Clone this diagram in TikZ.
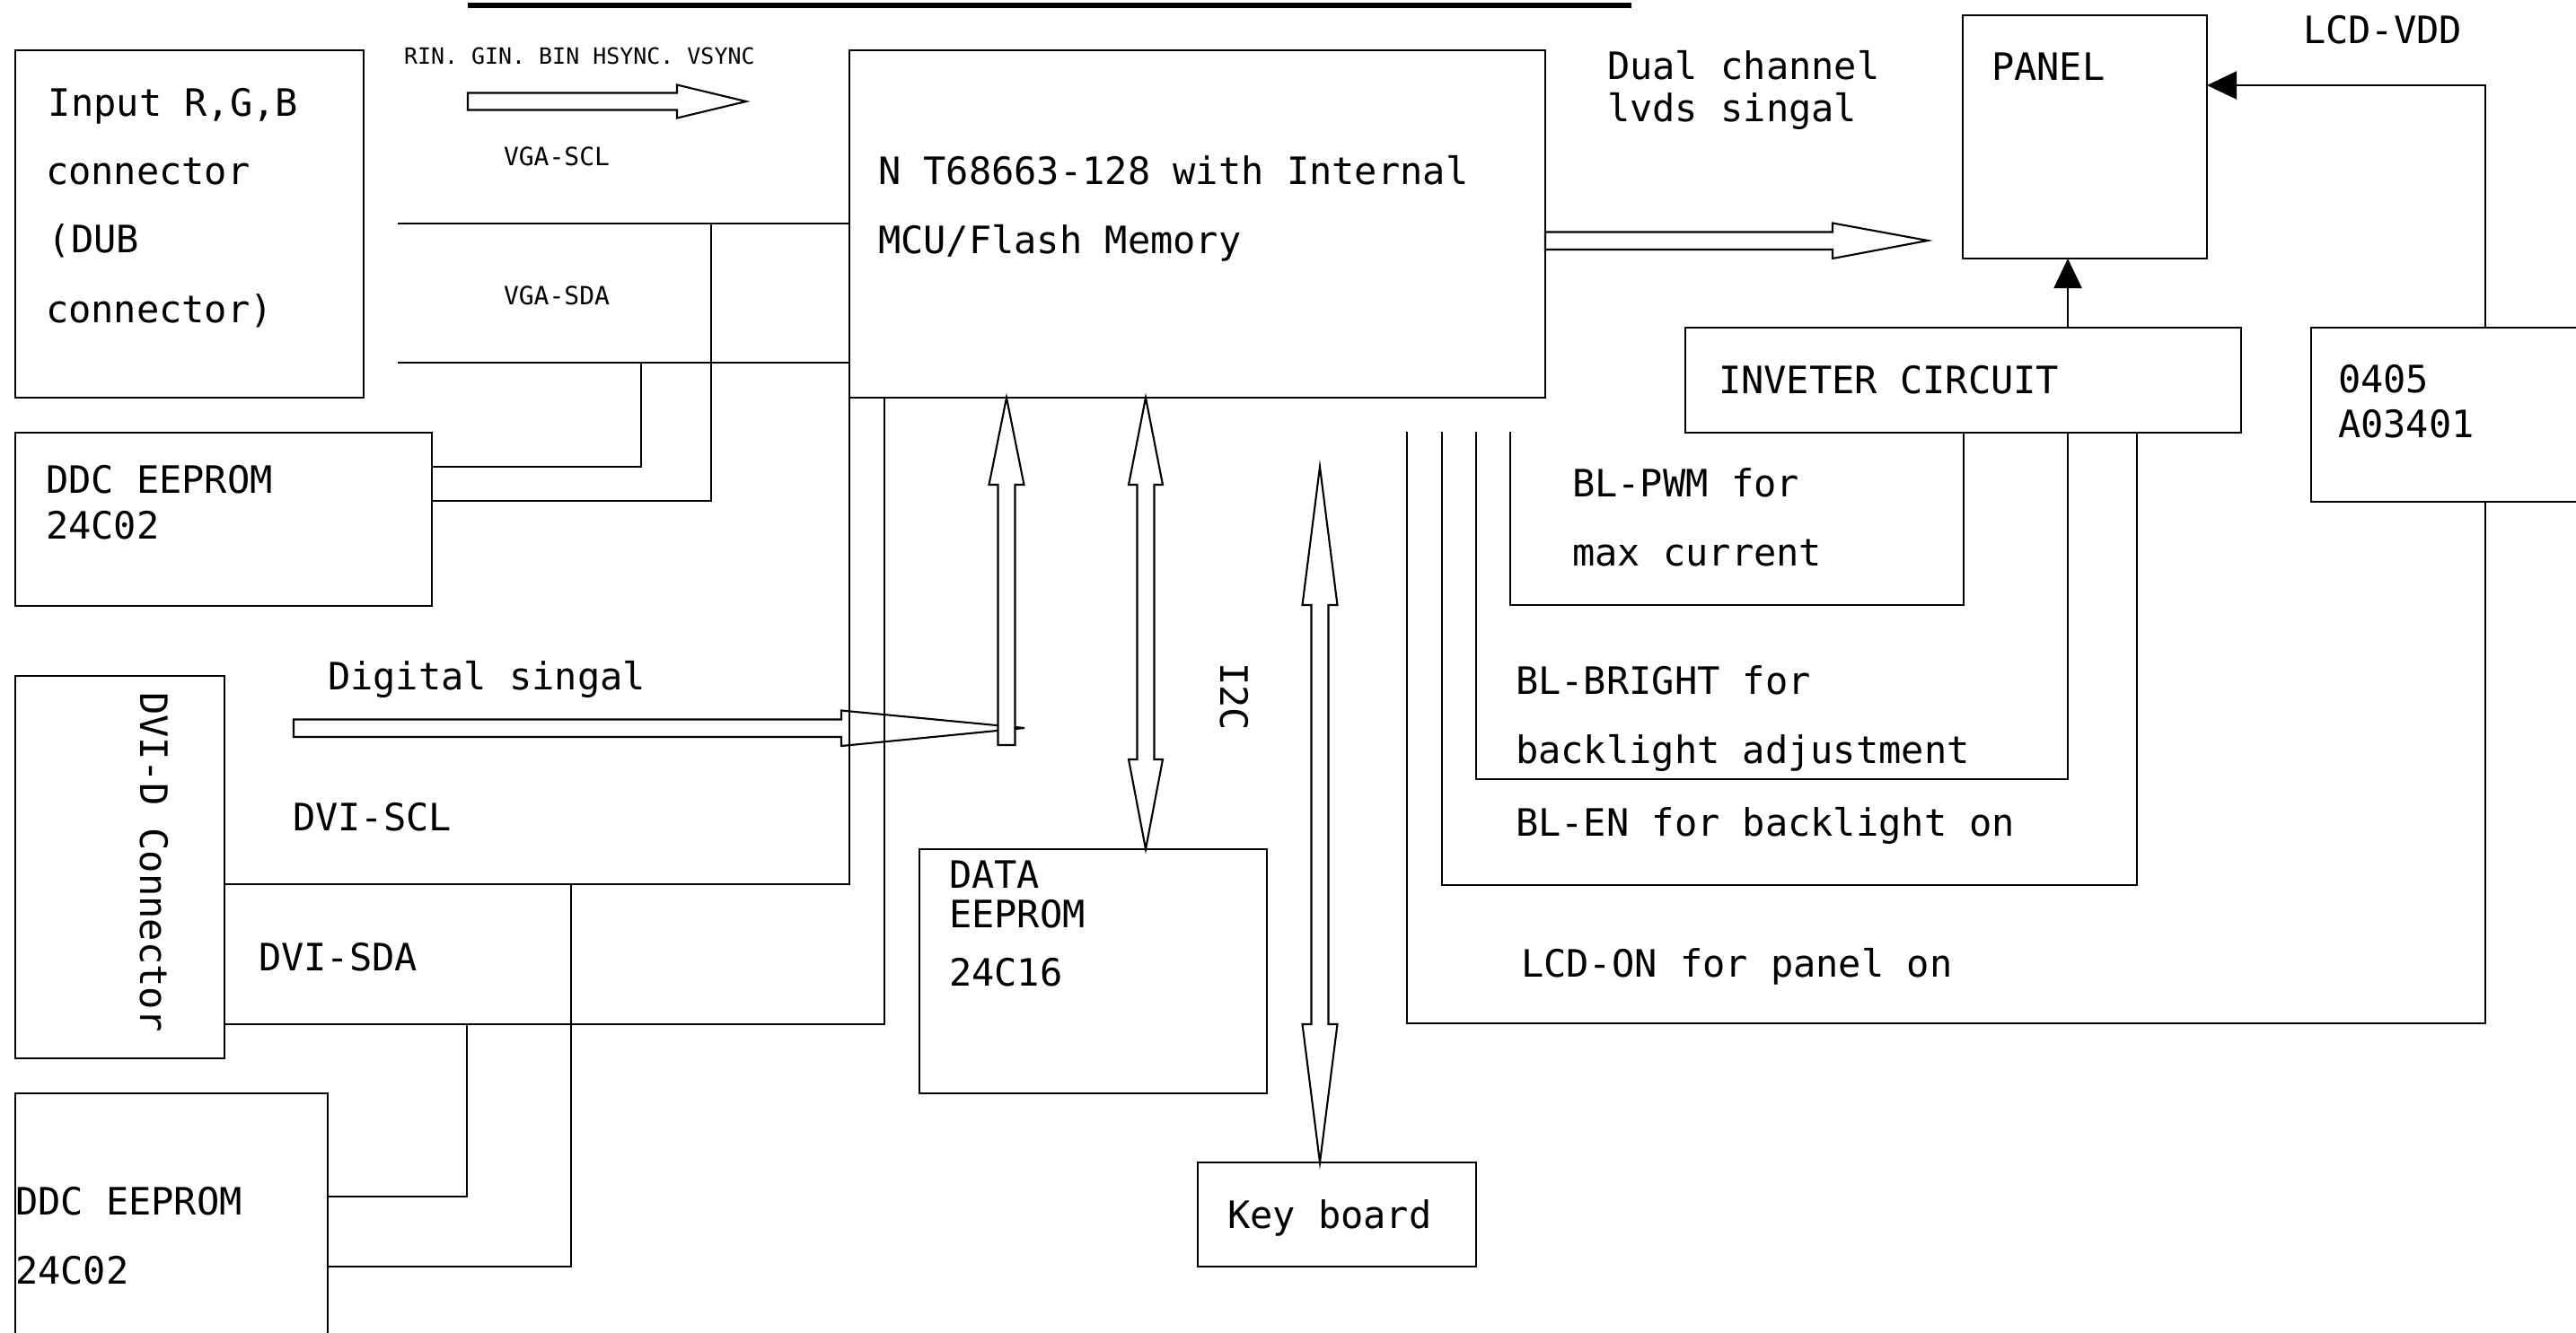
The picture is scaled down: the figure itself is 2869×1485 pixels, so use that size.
\documentclass[tikz,border=0pt]{standalone}
\usepackage{fontspec}
\newfontfamily\djm{DejaVu Sans Mono}
\usetikzlibrary{calc,arrows.meta}
\tikzset{
  ln/.style={line width=0.6pt},
  blk/.style={draw, line width=0.6pt, inner sep=0pt, outer sep=0pt, anchor=north west},
  big/.style={inner sep=0pt, outer sep=0pt, anchor=base west, font=\djm\fontsize{11.95}{14}\selectfont},
  sml/.style={big, font=\djm\fontsize{7.1}{9}\selectfont},
  mid/.style={big, font=\djm\fontsize{7.97}{10}\selectfont},
  hollow/.style={draw, line width=0.6pt, fill=white, line join=miter},
  solidtip/.style={-{Triangle[length=3.3mm,width=3.1mm]}, line width=0.6pt}
}
\begin{document}
\begin{tikzpicture}[x=0.1mm,y=-0.1mm]
\clip (0,0) rectangle (2869,1485);
\fill[white] (0,0) rectangle (2869,1485);

% top bar
\coordinate (barL) at (521,6);
\coordinate (barR) at (1817,6);
\draw[line width=1.5pt] (barL) -- (barR);

% boxes
\node[blk, minimum width=38.8mm, minimum height=38.7mm] (inp) at (17,56) {};
\node[blk, minimum width=46.4mm, minimum height=19.3mm] (ddca) at (17,482) {};
\node[blk, minimum width=77.5mm, minimum height=38.7mm] (main) at (946,56) {};
\node[blk, minimum width=27.2mm, minimum height=27.1mm] (panel) at (2186,17) {};
\node[blk, minimum width=61.9mm, minimum height=11.7mm] (inv) at (1877,365) {};
\node[blk, minimum width=31mm, minimum height=19.4mm] (mos) at (2574,365) {};
\node[blk, minimum width=23.3mm, minimum height=42.6mm] (dvi) at (17,753) {};
\node[blk, minimum width=34.8mm, minimum height=30mm] (ddcb) at (17,1218) {};
\node[blk, minimum width=38.7mm, minimum height=27.2mm] (data) at (1024,946) {};
\node[blk, minimum width=31mm, minimum height=11.6mm] (key) at (1334,1295) {};

% texts
\node[big] (t1) at (54,129) {Input R,G,B};
\node[big] (t2) at (51,205) {connector};
\node[big] (t3) at (54,281) {(DUB};
\node[big] (t4) at (51,359) {connector)};
\node[big] (t5) at (51,549) {DDC EEPROM};
\node[big] (t6) at (51,600) {24C02};
\node[big] (t7) at (978,205) {N T68663-128 with Internal};
\node[big] (t8) at (978,282) {MCU/Flash Memory};
\node[sml] (t9) at (450,71) {RIN. GIN. BIN HSYNC. VSYNC};
\node[mid] (t10) at (561,184) {VGA-SCL};
\node[mid] (t11) at (561,339) {VGA-SDA};
\node[big] (t12) at (1790,88) {Dual channel};
\node[big] (t13) at (1790,135) {lvds singal};
\node[big] (t14) at (2218,89) {PANEL};
\node[big] (t15) at (2565,48) {LCD-VDD};
\node[big] (t16) at (1914,438) {INVETER CIRCUIT};
\node[big] (t17) at (2604,437) {0405};
\node[big] (t18) at (2604,487) {A03401};
\node[big] (t19) at (1751,553) {BL-PWM for};
\node[big] (t20) at (1751,630) {max current};
\node[big] (t21) at (1688,773) {BL-BRIGHT for};
\node[big] (t22) at (1688,850) {backlight adjustment};
\node[big] (t23) at (1688,931) {BL-EN for backlight on};
\node[big] (t24) at (1694,1088) {LCD-ON for panel on};
\node[big] (t25) at (365,768) {Digital singal};
\node[big] (t26) at (326,925) {DVI-SCL};
\node[big] (t27) at (288,1081) {DVI-SDA};
\node[big] (t28) at (17,1353) {DDC EEPROM};
\node[big] (t29) at (17,1430) {24C02};
\node[big] (t30) at (1057,989) {DATA};
\node[big] (t31) at (1057,1033) {EEPROM};
\node[big] (t32) at (1057,1098) {24C16};
\node[big] (t33) at (1367,1368) {Key board};
\node[big, rotate=-90] (t34) at (156,771) {DVI-D Connector};
\node[big, rotate=-90] (t35) at (1359,738) {I2C};

% VGA lines
\coordinate (sclL) at (443,249);
\coordinate (sdaL) at (443,404);
\draw[ln] (sclL) -- (sclL -| main.west);
\draw[ln] (sdaL) -- (sdaL -| main.west);
\coordinate (j1) at (792,249); \coordinate (j1b) at (792,558);
\draw[ln] (j1) -- (j1b) -- (j1b -| ddca.east);
\coordinate (j2) at (714,404); \coordinate (j2b) at (714,520);
\draw[ln] (j2) -- (j2b) -- (j2b -| ddca.east);

% RGB hollow arrow
\coordinate (rinA) at (521,113);
\coordinate (rinT) at (831,113);
\draw[hollow] (rinA) ++(0,-9.5) -- ++(233,0) -- ++(0,-9) -- (rinT) -- ++(-77,18.5) -- ++(0,-9) -- ++(-233,0) -- cycle;

% LVDS hollow arrow
\coordinate (lvT) at (2147,268);
\coordinate (lvA) at (lvT -| main.east);
\draw[hollow] (lvA) ++(0,-9.5) -- ++(320,0) -- ++(0,-10) -- (lvT) -- ++(-106,20) -- ++(0,-10) -- ++(-320,0) -- cycle;

% Digital hollow arrow
\coordinate (dgA) at (327,811);
\coordinate (dgT) at (1141,811);
\draw[hollow] (dgA) ++(0,-9.5) -- ++(610,0) -- ++(0,-10) -- (dgT) -- ++(-204,20) -- ++(0,-10) -- ++(-610,0) -- cycle;

% arrow 1 up to main
\coordinate (a1x) at (1121,830);
\coordinate (a1T) at (a1x |- main.south);
\draw[hollow] (a1x) ++(-9.5,0) -- ++(0,-290) -- ++(-10,0) -- (a1T) -- ++(19.5,97) -- ++(-10,0) -- ++(0,290) -- cycle;

% arrow 2 main <-> data
\coordinate (a2x) at (1276,700);
\coordinate (a2T) at (a2x |- main.south);
\coordinate (a2B) at (a2x |- data.north);
\draw[hollow] (a2T) -- ++(19,97) -- ++(-9.5,0) -- ++(0,306) -- ++(9.5,0) -- (a2B) -- ++(-19,-100) -- ++(9.5,0) -- ++(0,-306) -- ++(-9.5,0) -- cycle;

% arrow 3 keyboard
\coordinate (a3T) at (1470,520);
\coordinate (a3B) at (a3T |- key.north);
\draw[hollow] (a3T) -- ++(19.5,154) -- ++(-10,0) -- ++(0,467) -- ++(10,0) -- (a3B) -- ++(-19.5,-154) -- ++(10,0) -- ++(0,-467) -- ++(-10,0) -- cycle;

% DVI lines
\coordinate (dsclc) at (946,985);
\draw[ln] (dsclc -| dvi.east) -- (dsclc) -- (dsclc |- main.south);
\coordinate (dsdac) at (985,1141);
\draw[ln] (dsdac -| dvi.east) -- (dsdac) -- (dsdac |- main.south);
\coordinate (k1) at (636,985); \coordinate (k1b) at (636,1411);
\draw[ln] (k1) -- (k1b) -- (k1b -| ddcb.east);
\coordinate (k2) at (520,1141); \coordinate (k2b) at (520,1333);
\draw[ln] (k2) -- (k2b) -- (k2b -| ddcb.east);

% panel arrows
\coordinate (vdd) at (2768,95);
\draw[solidtip] (vdd |- mos.north) -- (vdd) -- (vdd -| panel.east);
\coordinate (invp) at (2303,420);
\draw[solidtip] (invp |- inv.north) -- (invp |- panel.south);

% control loops
\coordinate (p1) at (1682,481); \coordinate (p1b) at (1682,674); \coordinate (p1r) at (2187,674);
\draw[ln] (p1) -- (p1b) -- (p1r) -- (p1r |- inv.south);
\coordinate (p2) at (1644,481); \coordinate (p2b) at (1644,868); \coordinate (p2r) at (2303,868);
\draw[ln] (p2) -- (p2b) -- (p2r) -- (p2r |- inv.south);
\coordinate (p3) at (1606,481); \coordinate (p3b) at (1606,986); \coordinate (p3r) at (2380,986);
\draw[ln] (p3) -- (p3b) -- (p3r) -- (p3r |- inv.south);
\coordinate (p4) at (1567,481); \coordinate (p4b) at (1567,1140); \coordinate (p4r) at (2768,1140);
\draw[ln] (p4) -- (p4b) -- (p4r) -- (p4r |- mos.south);
\end{tikzpicture}
\end{document}
